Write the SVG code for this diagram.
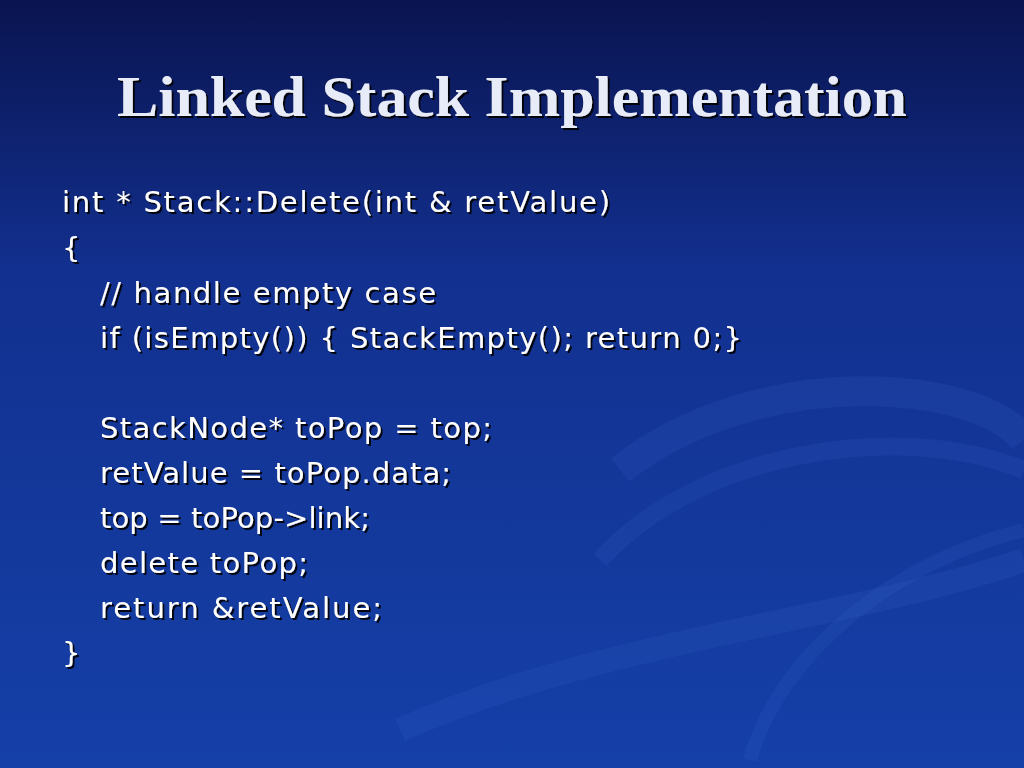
<svg xmlns="http://www.w3.org/2000/svg" width="1024" height="768" viewBox="0 0 1024 768">
<defs>
<linearGradient id="bg" x1="0" y1="0" x2="0" y2="1">
<stop offset="0" stop-color="#0a1450"/>
<stop offset="0.35" stop-color="#12308f"/>
<stop offset="1" stop-color="#1540a8"/>
</linearGradient>
<filter id="sh"><feDropShadow dx="2" dy="2" stdDeviation="0.5" flood-color="#000" flood-opacity="0.9"/></filter>
</defs>
<style>
.t{font-family:"Liberation Serif",serif;font-weight:bold;font-size:58px;fill:#e8ecf8}
.c{font-family:"DejaVu Sans",sans-serif;font-size:29px;fill:#ffffff}
.sw{fill:none;stroke:#3a6ad0;stroke-opacity:0.15}
</style>
<rect width="1024" height="768" fill="url(#bg)"/>
<g>
<path class="sw" stroke-width="30" d="M620 470 C760 360 980 380 1024 440"/>
<path class="sw" stroke-width="18" d="M600 560 C700 450 900 420 1024 470"/>
<path class="sw" stroke-width="24" d="M400 730 C600 640 850 620 1024 560"/>
<path class="sw" stroke-width="14" d="M750 760 C780 650 900 560 1024 530"/>
</g>
<g id="title" filter="url(#sh)"><text class="t" x="512" y="116" text-anchor="middle" textLength="790" lengthAdjust="spacingAndGlyphs">Linked Stack Implementation</text></g>
<g id="code" filter="url(#sh)">
<text class="c" x="62" y="212" textLength="548">int * Stack::Delete(int &amp; retValue)</text>
<text class="c" x="62" y="258">{</text>
<text class="c" x="100" y="303" textLength="336">// handle empty case</text>
<text class="c" x="100" y="348" textLength="642">if (isEmpty()) { StackEmpty(); return 0;}</text>
<text class="c" x="100" y="438" textLength="392">StackNode* toPop = top;</text>
<text class="c" x="100" y="483" textLength="351">retValue = toPop.data;</text>
<text class="c" x="100" y="528" textLength="270">top = toPop-&gt;link;</text>
<text class="c" x="100" y="573" textLength="208">delete toPop;</text>
<text class="c" x="100" y="618" textLength="282">return &amp;retValue;</text>
<text class="c" x="62" y="663">}</text>
</g>
</svg>
